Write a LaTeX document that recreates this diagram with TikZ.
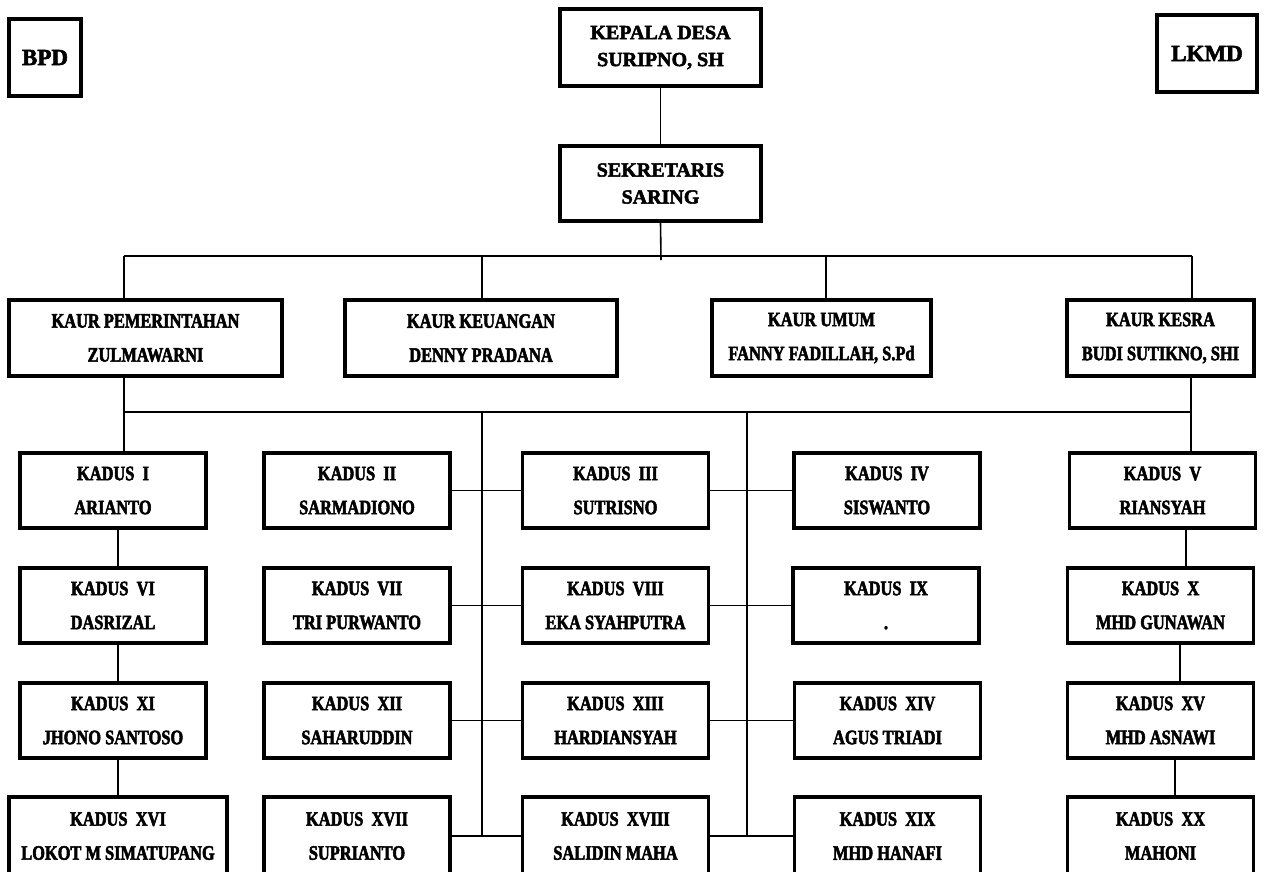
\documentclass[tikz,border=0pt]{standalone}
\usepackage{fontspec}
\newfontfamily\headfont{Liberation Serif}[FakeBold=2.5]
\newfontfamily\rowfont{Liberation Serif}[FakeStretch=0.8,FakeBold=2.5]
\usetikzlibrary{positioning}

\begin{document}
\begin{tikzpicture}[x=1pt, y=-1pt,
	unit/.style={draw, line width=3.4pt, inner sep=0pt, align=center},
	headbox/.style={unit, minimum width=201, minimum height=77,
		font=\headfont\bfseries\fontsize{20}{27}\selectfont},
	sidebox/.style={unit, minimum height=77,
		font=\headfont\bfseries\fontsize{23}{27}\selectfont},
	kaurbox/.style={unit, minimum height=76,
		font=\rowfont\bfseries\fontsize{20.5}{34}\selectfont},
	kadusbox/.style={unit, minimum width=186, minimum height=75,
		font=\rowfont\bfseries\fontsize{20.5}{34}\selectfont},
	link/.style={line width=1.6pt}]
\useasboundingbox (0,0) rectangle (1265,871);
\clip (0,0) rectangle (1265,871);

% top
\node [sidebox, minimum width=72] (bpd) at (45,57.5) {BPD};
\node [sidebox, minimum width=100] (lkmd) at (1207,53.5) {LKMD};
\node [headbox] (kepala) at (660.5,47.5) {KEPALA DESA\\SURIPNO, SH};
\node [headbox, minimum height=75] (sekr) at (660.5,183.5) {SEKRETARIS\\SARING};

% kaur
\node [kaurbox, minimum width=273] (kpem) at (145.5,338) {KAUR PEMERINTAHAN\\ZULMAWARNI};
\node [kaurbox, minimum width=272] (kkeu) at (481,338) {KAUR KEUANGAN\\DENNY PRADANA};
\node [kaurbox, minimum width=219] (kumum) at (821.5,338) {KAUR UMUM\\FANNY FADILLAH, S.Pd};
\node [kaurbox, minimum width=187] (kkesra) at (1160.5,338) {KAUR KESRA\\BUDI SUTIKNO, SHI};

% kadus
\node [kadusbox] (k1) at (113,490.5) {KADUS\ \ I\\ARIANTO};
\node [kadusbox] (k2) at (357,490.5) {KADUS\ \ II\\SARMADIONO};
\node [kadusbox] (k3) at (615.5,490.5) {KADUS\ \ III\\SUTRISNO};
\node [kadusbox] (k4) at (887,490.5) {KADUS\ \ IV\\SISWANTO};
\node [kadusbox] (k5) at (1162.5,490.5) {KADUS\ \ V\\RIANSYAH};
\node [kadusbox] (k6) at (113,605.5) {KADUS\ \ VI\\DASRIZAL};
\node [kadusbox] (k7) at (357,605.5) {KADUS\ \ VII\\TRI PURWANTO};
\node [kadusbox] (k8) at (615.5,605.5) {KADUS\ \ VIII\\EKA SYAHPUTRA};
\node [kadusbox] (k9) at (886,605.5) {KADUS\ \ IX\\.};
\node [kadusbox] (k10) at (1160.5,605.5) {KADUS\ \ X\\MHD GUNAWAN};
\node [kadusbox] (k11) at (113,720.5) {KADUS\ \ XI\\JHONO SANTOSO};
\node [kadusbox] (k12) at (357,720.5) {KADUS\ \ XII\\SAHARUDDIN};
\node [kadusbox] (k13) at (615.5,720.5) {KADUS\ \ XIII\\HARDIANSYAH};
\node [kadusbox] (k14) at (887.5,720.5) {KADUS\ \ XIV\\AGUS TRIADI};
\node [kadusbox] (k15) at (1160.5,720.5) {KADUS\ \ XV\\MHD ASNAWI};
\node [kadusbox, minimum width=218, minimum height=78] (k16) at (118,836) {KADUS\ \ XVI\\LOKOT M SIMATUPANG};
\node [kadusbox, minimum height=78] (k17) at (357,836) {KADUS\ \ XVII\\SUPRIANTO};
\node [kadusbox, minimum height=78] (k18) at (615.5,836) {KADUS\ \ XVIII\\SALIDIN MAHA};
\node [kadusbox, minimum height=78] (k19) at (887.5,836) {KADUS\ \ XIX\\MHD HANAFI};
\node [kadusbox, minimum height=78] (k20) at (1160.5,836) {KADUS\ \ XX\\MAHONI};

% bus lines
\coordinate (b1) at (124,256);
\coordinate (b2) at (482,256);
\coordinate (b3) at (826,256);
\coordinate (b4) at (1192,256);
\coordinate (stub) at (661,260);
\coordinate (c1) at (124,412);
\coordinate (c5) at (1191,412);
\coordinate (t2) at (482,412);
\coordinate (t3) at (747,412);

\draw [link] (kepala.south) -- (sekr.north);
\draw [link] (sekr.south) -- (stub);
\draw [link] (b1) -- (b4);
\foreach \p/\q in {b1/kpem, b2/kkeu, b3/kumum, b4/kkesra}
	\draw [link] (\p) -- (\p |- \q.north);

\draw [link] (c1 |- kpem.south) -- (c1 |- k1.north);
\draw [link] (c5 |- kkesra.south) -- (c5 |- k5.north);
\draw [link] (c1) -- (c5);
\draw [link] (t2) -- (t2 |- k17.east);
\draw [link] (t3) -- (t3 |- k18.east);

% rows
\foreach \l/\m/\r in {k2/k3/k4, k7/k8/k9, k12/k13/k14, k17/k18/k19}
	\draw [link] (\l.east) -- (\m.west) (\m.east) -- (\r.west);

% outer columns
\draw [link] ([xshift=5pt]k1.south) -- ([xshift=5pt]k6.north);
\draw [link] ([xshift=5pt]k6.south) -- ([xshift=5pt]k11.north);
\draw [link] ([xshift=5pt]k11.south) -- (k16.north);
\draw [link] ([xshift=23.5pt]k5.south) -- ([xshift=25.5pt]k10.north);
\draw [link] ([xshift=19.5pt]k10.south) -- ([xshift=19.5pt]k15.north);
\draw [link] ([xshift=14.5pt]k15.south) -- ([xshift=14.5pt]k20.north);
\end{tikzpicture}
\end{document}
